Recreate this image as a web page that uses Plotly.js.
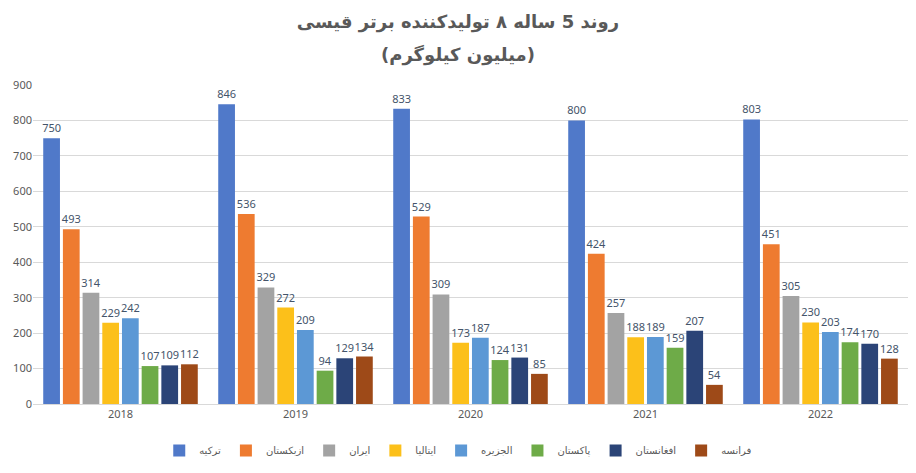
<!DOCTYPE html>
<html>
<head>
<meta charset="utf-8">
<script src="https://cdn.plot.ly/plotly-3.0.1.min.js"></script>
<style>html,body{margin:0;padding:0;background:#fff;}#chart{width:916px;height:473px;}</style>
</head>
<body>
<div id="chart"></div>
<script>
const years = ['2018', '2019', '2020', '2021', '2022'];
const countries = ['ترکیه', 'ازبکستان', 'ایران', 'ایتالیا', 'الجزیره', 'پاکستان', 'افغانستان', 'فرانسه'];
const turkey      = [750, 846, 833, 800, 803];
const uzbekistan  = [493, 536, 529, 424, 451];
const iran        = [314, 329, 309, 257, 305];
const italy       = [229, 272, 173, 188, 230];
const algeria     = [242, 209, 187, 189, 203];
const pakistan    = [107, 94, 124, 159, 174];
const afghanistan = [109, 129, 131, 207, 170];
const france      = [112, 134, 85, 54, 128];
const yTicks = [0, 100, 200, 300, 400, 500, 600, 700, 800, 900];

const series = [turkey, uzbekistan, iran, italy, algeria, pakistan, afghanistan, france];
const colors = ['#5079c9', '#ee7b30', '#a3a3a3', '#fcc01a', '#5c98d5', '#6eab48', '#2b4477', '#9e4a18'];

const traces = series.map((vals, i) => ({
  type: 'bar',
  name: countries[i],
  x: years,
  y: vals,
  text: vals.map(String),
  textposition: 'outside',
  constraintext: 'none',
  cliponaxis: false,
  textfont: {family: 'Noto Sans, DejaVu Sans, sans-serif', size: 11, color: '#44546a'},
  marker: {color: colors[i]},
  hoverinfo: 'x+y+name'
}));

const layout = {
  width: 916, height: 473,
  margin: {l: 33, r: 8, t: 85, b: 54},
  paper_bgcolor: '#ffffff', plot_bgcolor: '#ffffff',
  barmode: 'group', bargap: 0.1, bargroupgap: 0.15,
  font: {family: 'Noto Sans, DejaVu Sans, sans-serif', color: '#595959'},
  title: {
    text: 'روند 5 ساله ۸ تولیدکننده برتر قیسی',
    font: {family: 'DejaVu Sans, sans-serif', size: 18, color: '#595959', weight: 'bold'},
    x: 0.5, xref: 'container', xanchor: 'center', y: 0.955, yref: 'container', yanchor: 'middle'
  },
  annotations: [{
    text: '(میلیون کیلوگرم)',
    xref: 'paper', yref: 'paper', x: 0.486, y: 1.093, xanchor: 'center', yanchor: 'middle',
    showarrow: false,
    font: {family: 'DejaVu Sans, sans-serif', size: 18, color: '#595959', weight: 'bold'}
  }],
  xaxis: {
    type: 'category',
    tickfont: {size: 11, color: '#595959'},
    showline: true, linecolor: '#d9d9d9', linewidth: 1,
    ticks: '', showgrid: false
  },
  yaxis: {
    range: [0, 900],
    tickvals: yTicks,
    tickfont: {size: 11, color: '#595959'},
    showgrid: true, gridcolor: '#d9d9d9', gridwidth: 1,
    zeroline: false, showline: false, ticks: ''
  },
  legend: {
    orientation: 'h', x: 0.486, xanchor: 'center', y: -0.1, yanchor: 'top',
    font: {family: 'DejaVu Sans, sans-serif', size: 10, color: '#595959'},
    itemwidth: 30, traceorder: 'normal'
  },
  showlegend: true
};

Plotly.newPlot('chart', traces, layout, {displayModeBar: false, responsive: false});
</script>
</body>
</html>
